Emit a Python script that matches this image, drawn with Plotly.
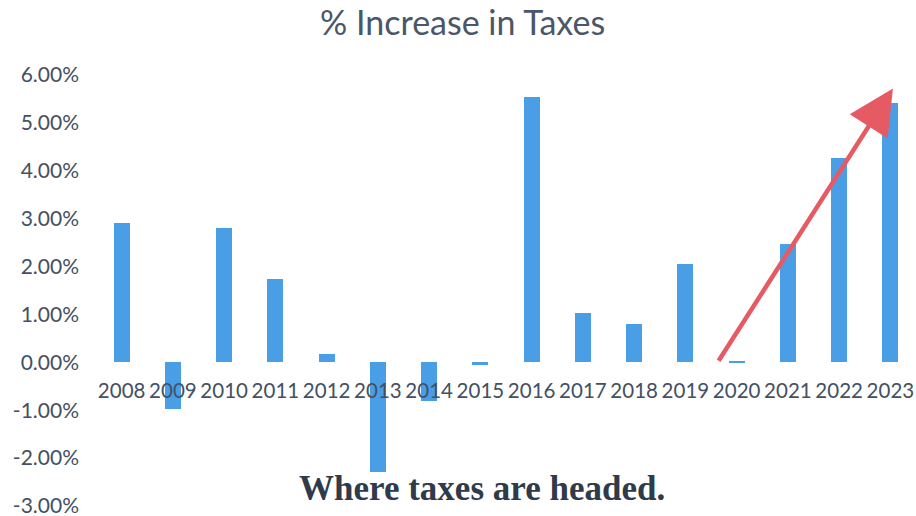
import plotly.graph_objects as go

years = [2008, 2009, 2010, 2011, 2012, 2013, 2014, 2015, 2016, 2017, 2018, 2019, 2020, 2021, 2022, 2023]
pct_increase = [2.90, -0.98, 2.81, 1.75, 0.17, -2.29, -0.81, -0.05, 5.54, 1.02, 0.81, 2.06, 0.02, 2.48, 4.27, 5.42]
y_ticks = [-3, -2, -1, 0, 1, 2, 3, 4, 5, 6]
y_range = [-3, 6]

arrow_tail = (2019.63, 0.0)
arrow_head = (2023.05, 5.72)

title_text = "% Increase in Taxes"
note_text = "Where taxes are headed."

text_color = "#435063"
bar_color = "#4a9ee6"

fig = go.Figure()
fig.add_trace(go.Bar(x=years, y=pct_increase, marker_color=bar_color, width=0.31,
                     marker_line_width=0, hoverinfo="skip"))

zero_pos = (0 - y_range[0]) / (y_range[1] - y_range[0])

fig.update_layout(
    width=916, height=516,
    margin=dict(l=96, r=0, t=75, b=10),
    paper_bgcolor="white", plot_bgcolor="white",
    showlegend=False,
    title=dict(text=title_text, x=0.505, xanchor="center", y=0.955, yanchor="middle",
               font=dict(family="Lato", size=34, color="#4a5669")),
    xaxis=dict(range=[years[0] - 0.5, years[-1] + 0.5], tickmode="array", tickvals=years,
               ticktext=[str(y) for y in years], showgrid=False, zeroline=False, showline=False,
               anchor="free", position=zero_pos, ticks="", ticklabelstandoff=14,
               tickangle=0, ticklabeloverflow="allow",
               tickfont=dict(family="Lato", size=20.5, color=text_color)),
    yaxis=dict(range=y_range, tickmode="array", tickvals=y_ticks,
               ticktext=[f"{v:.2f}%" for v in y_ticks], showgrid=False, zeroline=False,
               showline=False, ticks="", ticklabelstandoff=16, ticklabeloverflow="allow",
               tickfont=dict(family="Lato", size=21, color=text_color)),
    bargap=0,
)

fig.add_annotation(x=arrow_head[0], y=arrow_head[1], ax=arrow_tail[0], ay=arrow_tail[1],
                   xref="x", yref="y", axref="x", ayref="y", showarrow=True,
                   arrowhead=2, arrowsize=2.0, arrowwidth=4.5, arrowcolor="#e65a64", text="")

fig.add_annotation(x=0.471, y=0.04, xref="paper", yref="paper", xanchor="center", yanchor="middle",
                   text=f"<b>{note_text}</b>", showarrow=False,
                   font=dict(family="Liberation Serif", size=35, color="#2f3a4a"))

fig.write_html("out.html")
